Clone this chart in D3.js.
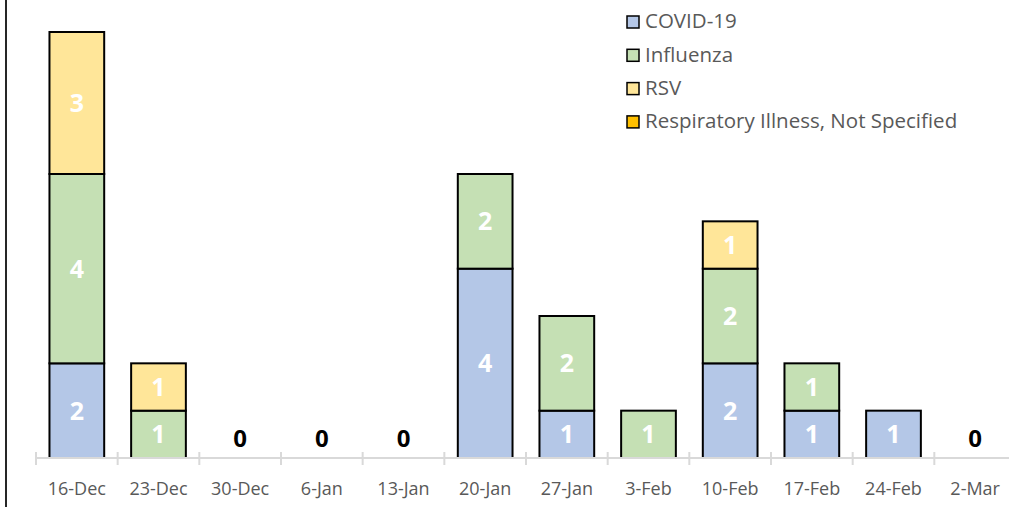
<!DOCTYPE html>
<html lang="en">
<head>
<meta charset="UTF-8">
<title>Respiratory illness by week</title>
<script src="https://d3js.org/d3.v7.min.js"></script>
<style>
  html, body { margin: 0; padding: 0; background: #fff; overflow: hidden; }
  svg { display: block; font-family: "Open Sans", "Noto Sans", sans-serif; }
</style>
</head>
<body>
<script>
// data
const weeks = ["16-Dec", "23-Dec", "30-Dec", "6-Jan", "13-Jan", "20-Jan", "27-Jan", "3-Feb", "10-Feb", "17-Feb", "24-Feb", "2-Mar"];
const seriesNames = ["COVID-19", "Influenza", "RSV", "Respiratory Illness, Not Specified"];
const covid = [2, 0, 0, 0, 0, 4, 1, 0, 2, 1, 1, 0];
const influenza = [4, 1, 0, 0, 0, 2, 2, 1, 2, 1, 0, 0];
const rsv = [3, 1, 0, 0, 0, 0, 0, 0, 1, 0, 0, 0];
const notSpecified = [0, 0, 0, 0, 0, 0, 0, 0, 0, 0, 0, 0];
const colors = ["#b4c7e7", "#c5e0b4", "#ffe699", "#ffc000"];

const W = 1009, H = 507;
const plotLeft = 36, plotRight = 1016, base = 458, plotTop = 32, yMax = 9;

const table = weeks.map((w, i) => ({
  week: w,
  "COVID-19": covid[i],
  "Influenza": influenza[i],
  "RSV": rsv[i],
  "Respiratory Illness, Not Specified": notSpecified[i]
}));

const svg = d3.select("body").append("svg")
  .attr("width", W)
  .attr("height", H);

const x = d3.scaleBand().domain(weeks).range([plotLeft, plotRight]).paddingInner(0.33).paddingOuter(0.165);
const y = d3.scaleLinear().domain([0, yMax]).range([base, plotTop]);

// left border line
svg.append("line")
  .attr("x1", 6).attr("x2", 6).attr("y1", 0).attr("y2", H)
  .attr("stroke", "#262626").attr("stroke-width", 2);

const stack = d3.stack().keys(seriesNames)(table);

// bars
const layer = svg.append("g").selectAll("g")
  .data(stack)
  .join("g")
  .attr("fill", (d, i) => colors[i]);

layer.selectAll("rect")
  .data(d => d.filter(s => s[1] - s[0] > 0))
  .join("rect")
  .attr("x", d => x(d.data.week))
  .attr("y", d => y(d[1]))
  .attr("width", x.bandwidth())
  .attr("height", d => y(d[0]) - y(d[1]))
  .attr("stroke", "#000")
  .attr("stroke-width", 2);

// white value labels inside segments
layer.selectAll("text")
  .data(d => d.filter(s => s[1] - s[0] > 0))
  .join("text")
  .attr("x", d => x(d.data.week) + x.bandwidth() / 2)
  .attr("y", d => (y(d[0]) + y(d[1])) / 2)
  .attr("dy", "0.36em")
  .attr("text-anchor", "middle")
  .attr("fill", "#fff")
  .attr("font-weight", "bold")
  .attr("font-size", 25)
  .text(d => d[1] - d[0]);

// zero totals
svg.append("g").selectAll("text")
  .data(table.filter(d => seriesNames.every(k => d[k] === 0)))
  .join("text")
  .attr("x", d => x(d.week) + x.bandwidth() / 2)
  .attr("y", base - 20)
  .attr("dy", "0.36em")
  .attr("text-anchor", "middle")
  .attr("fill", "#000")
  .attr("font-weight", "bold")
  .attr("font-size", 24)
  .text("0");

// x axis
const xAxis = svg.append("g")
  .attr("transform", `translate(0,${base})`);
xAxis.append("line")
  .attr("x1", plotLeft).attr("x2", plotRight)
  .attr("stroke", "#d9d9d9").attr("stroke-width", 2);
const step = x.step();
xAxis.selectAll(".tick")
  .data(d3.range(weeks.length + 1))
  .join("line")
  .attr("x1", i => plotLeft + i * step)
  .attr("x2", i => plotLeft + i * step)
  .attr("y1", -6).attr("y2", 7)
  .attr("stroke", "#d9d9d9").attr("stroke-width", 2);
xAxis.selectAll("text")
  .data(weeks)
  .join("text")
  .attr("x", d => x(d) + x.bandwidth() / 2)
  .attr("y", 31)
  .attr("dy", "0.36em")
  .attr("text-anchor", "middle")
  .attr("fill", "#595959")
  .attr("font-size", 18)
  .text(d => d);

// legend
const legend = svg.append("g").attr("transform", "translate(626,21)");
const item = legend.selectAll("g")
  .data(seriesNames)
  .join("g")
  .attr("transform", (d, i) => `translate(0,${i * 33.3})`);
item.append("rect")
  .attr("x", 1).attr("y", -5)
  .attr("width", 12).attr("height", 12)
  .attr("fill", (d, i) => colors[i])
  .attr("stroke", "#000").attr("stroke-width", 1.5);
item.append("text")
  .attr("x", 19)
  .attr("y", 0)
  .attr("dy", "0.36em")
  .attr("fill", "#595959")
  .attr("font-size", 20.5)
  .text(d => d);
</script>
</body>
</html>
